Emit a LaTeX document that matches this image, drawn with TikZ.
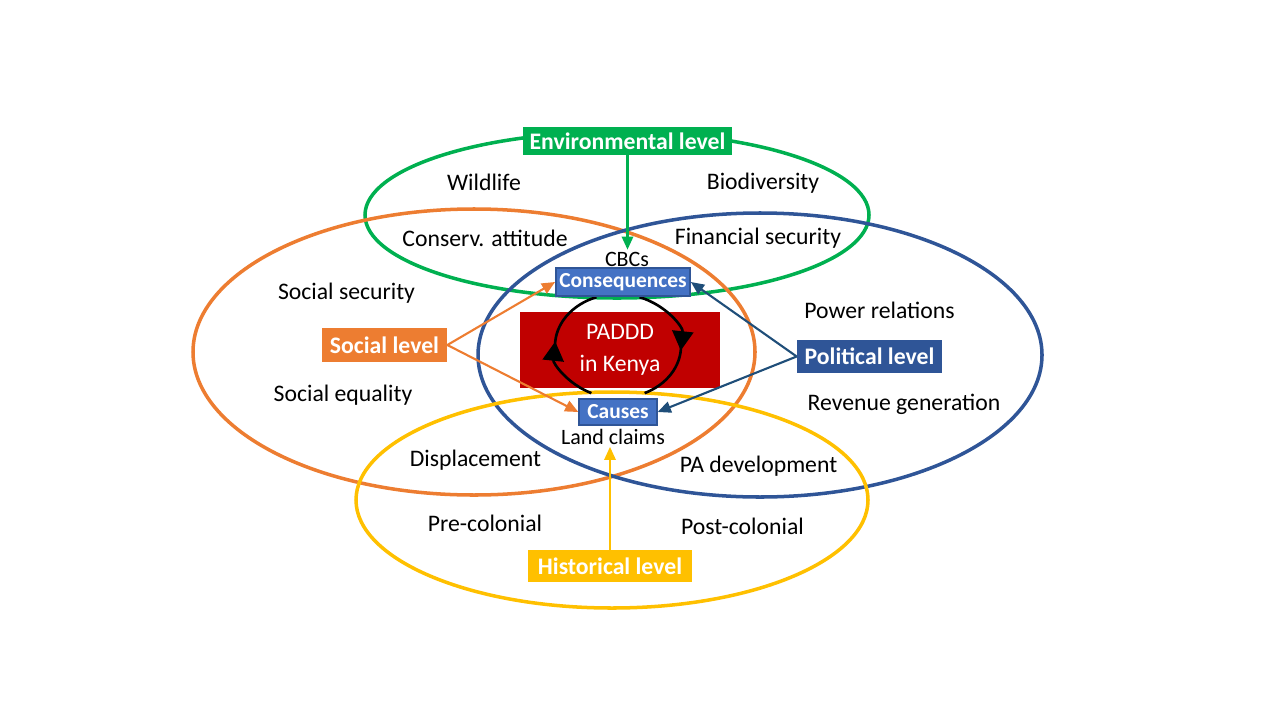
\documentclass[tikz,border=0pt]{standalone}
\usepackage{fontspec}
\setmainfont{Carlito}
\usetikzlibrary{arrows.meta,positioning}
\definecolor{cGreen}{HTML}{00B050}
\definecolor{cOrange}{HTML}{ED7D31}
\definecolor{cNavy}{HTML}{2F5597}
\definecolor{cGold}{HTML}{FFC000}
\definecolor{cRed}{HTML}{C00000}
\definecolor{cBlue}{HTML}{4472C4}
\definecolor{cDeep}{HTML}{1F4E79}
\tikzset{
  ring/.style={draw=#1,line width=2pt},
  lvbox/.style={fill=#1,text=white,font=\fontsize{13.5}{16}\selectfont\bfseries,inner sep=2pt},
  stbox/.style={fill=cBlue,draw=cNavy,line width=0.8pt,text=white,font=\fontsize{12.2}{14}\selectfont\bfseries,inner sep=2pt},
  lbl/.style={font=\fontsize{13.5}{16}\selectfont,text=black,inner sep=1pt},
  sub/.style={font=\fontsize{12.5}{14}\selectfont,inner sep=1pt},
  arr/.style={-{Triangle[length=7.5pt,width=6.5pt]},line width=1.2pt,color=#1},
  cyc/.style={-{Triangle[length=11pt,width=12pt]},line width=1.5pt},
}
\begin{document}
\begin{tikzpicture}[x=0.02cm,y=-0.02cm]
  \useasboundingbox (0,0) rectangle (1280,720);
  % the four levels
  \draw[ring=cGreen]  (617,215) ellipse [x radius=252, y radius=83];
  \draw[ring=cOrange] (474,352) ellipse [x radius=281, y radius=143];
  \draw[ring=cNavy]   (760,355) ellipse [x radius=282, y radius=142];
  \draw[ring=cGold]   (612,500) ellipse [x radius=256, y radius=108];

  % core
  \node[fill=cRed,text=white,minimum width=4cm,minimum height=1.52cm,align=center,
        font=\fontsize{13.5}{18}\selectfont] (core) at (620,350) {PADDD\\in Kenya};
  \draw[cyc] (618,346) ++(115:63 and 52) arc[start angle=115,end angle=185,x radius=63,y radius=52];
  \draw[line width=1.5pt] (618,346) ++(180:63 and 52) arc[start angle=180,end angle=250,x radius=63,y radius=52];
  \draw[cyc] (618,346) ++(290:63 and 52) arc[start angle=290,end angle=365,x radius=63,y radius=52];
  \draw[line width=1.5pt] (618,346) ++(360:63 and 52) arc[start angle=360,end angle=425,x radius=63,y radius=52];

  \node[stbox,minimum width=2.62cm,minimum height=0.56cm] (cons) at (623,282) {Consequences};
  \node[stbox,minimum width=1.56cm,minimum height=0.52cm] (causes) at (618,412) {Causes};
  \node[sub] (cbcs) at (627,259) {CBCs};
  \node[sub] (claims) at (613,437) {Land claims};

  % level boxes
  \node[lvbox=cGreen,minimum width=4.18cm,minimum height=0.56cm] (env) at (627.5,141) {Environmental level};
  \node[lvbox=cOrange,minimum width=2.5cm,minimum height=0.68cm] (social) at (384.5,345) {Social level};
  \node[lvbox=cNavy,minimum width=2.9cm,minimum height=0.66cm] (pol) at (869.5,356.5) {Political level};
  \node[lvbox=cGold,minimum width=3.28cm,minimum height=0.64cm] (hist) at (610,566) {Historical level};

  % labels
  \node[lbl] (wild)     at (484,182)   {Wildlife};
  \node[lbl] (biodiv)   at (763,183)   {Biodiversity};
  \node[lbl] (attitude) at (485,238)   {Conserv. attitude};
  \node[lbl] (finsec)   at (758,238)   {Financial security};
  \node[lbl] (socsec)   at (346.5,293) {Social security};
  \node[lbl] (socequal) at (343,395)   {Social equality};
  \node[lbl] (power)    at (879.5,310) {Power relations};
  \node[lbl] (revenue)  at (904,404)   {Revenue generation};
  \node[lbl] (displace) at (475.5,460) {Displacement};
  \node[lbl] (padev)    at (758.5,466) {PA development};
  \node[lbl] (precol)   at (485,523)   {Pre-colonial};
  \node[lbl] (postcol)  at (742.5,526) {Post-colonial};

  % connectors
  \draw[arr=cGreen] (env.south) -- (env.south |- cbcs.north);
  \draw[arr=cGold] (hist.north) -- (hist.north |- claims.south);
  \draw[arr=cOrange] (social.east) -- (cons.west);
  \draw[arr=cOrange] (social.east) -- (causes.west);
  \draw[arr=cDeep] (pol.west) -- (cons.east);
  \draw[arr=cDeep] (pol.west) -- (causes.east);
\end{tikzpicture}
\end{document}
